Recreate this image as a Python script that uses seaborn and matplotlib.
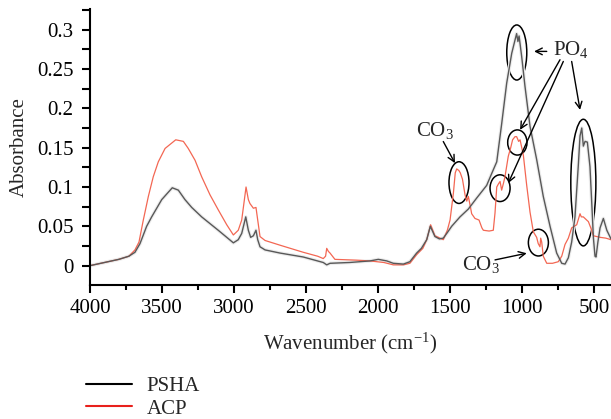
import numpy as np
import pandas as pd
import seaborn as sns
import matplotlib
matplotlib.use("Agg")
import matplotlib.pyplot as plt
from matplotlib.patches import Ellipse
from matplotlib.lines import Line2D
from matplotlib.ticker import MultipleLocator, FixedLocator, FixedFormatter

# ---------------- data ----------------
psha_wn = [4000, 3900, 3800, 3730, 3688, 3653, 3607, 3572, 3502, 3429, 3387, 3341, 3294, 3225,
           3110, 3005, 2971, 2947, 2919, 2901, 2885, 2866, 2848, 2836, 2820, 2785, 2681, 2520,
           2381, 2357, 2334, 2200, 2057, 1999, 1940, 1895, 1825, 1780, 1733, 1700, 1663, 1638,
           1606, 1575, 1548, 1520, 1490, 1432, 1374, 1316, 1247, 1210, 1177, 1143, 1108, 1073,
           1050, 1039, 1030, 1022, 1004, 981, 946, 900, 854, 807, 761, 726, 703, 680, 657, 634,
           610, 599, 587, 576, 564, 548, 530, 515, 506, 495, 488, 475, 460, 437, 413, 384]
psha_abs = [0.000, 0.004, 0.008, 0.012, 0.017, 0.028, 0.050, 0.062, 0.084, 0.099, 0.096, 0.084,
            0.074, 0.062, 0.045, 0.029, 0.033, 0.041, 0.062, 0.045, 0.036, 0.038, 0.045, 0.033,
            0.024, 0.020, 0.016, 0.011, 0.004, 0.001, 0.003, 0.004, 0.006, 0.008, 0.006, 0.003,
            0.002, 0.005, 0.016, 0.022, 0.033, 0.050, 0.037, 0.034, 0.035, 0.042, 0.050, 0.062,
            0.072, 0.086, 0.102, 0.118, 0.132, 0.180, 0.232, 0.270, 0.287, 0.295, 0.285, 0.292,
            0.266, 0.228, 0.177, 0.135, 0.088, 0.050, 0.016, 0.003, 0.002, 0.010, 0.030, 0.062,
            0.130, 0.165, 0.175, 0.152, 0.158, 0.157, 0.126, 0.070, 0.035, 0.012, 0.011, 0.030,
            0.048, 0.060, 0.045, 0.034]

acp_wn = [4000, 3900, 3800, 3730, 3688, 3660, 3630, 3595, 3561, 3526, 3479, 3405, 3352, 3318,
          3271, 3225, 3167, 3110, 3051, 3005, 2971, 2947, 2917, 2901, 2890, 2866, 2848, 2836,
          2820, 2785, 2681, 2520, 2420, 2381, 2365, 2357, 2345, 2334, 2300, 2150, 2057, 1960,
          1895, 1825, 1780, 1733, 1690, 1663, 1636, 1606, 1594, 1560, 1548, 1520, 1501, 1478,
          1465, 1455, 1440, 1430, 1415, 1397, 1385, 1374, 1360, 1351, 1328, 1300, 1280, 1270,
          1230, 1201, 1189, 1177, 1165, 1154, 1143, 1130, 1120, 1097, 1080, 1067, 1050, 1039,
          1025, 1015, 992, 969, 946, 923, 900, 889, 877, 872, 865, 854, 830, 790, 750, 726, 703,
          680, 657, 622, 599, 590, 576, 553, 541, 518, 506, 460, 420, 384]
acp_abs = [0.000, 0.004, 0.008, 0.012, 0.020, 0.030, 0.058, 0.088, 0.113, 0.132, 0.149, 0.160,
           0.158, 0.149, 0.134, 0.113, 0.090, 0.071, 0.052, 0.039, 0.045, 0.058, 0.100, 0.084,
           0.079, 0.073, 0.074, 0.058, 0.037, 0.032, 0.026, 0.017, 0.012, 0.009, 0.012, 0.022,
           0.018, 0.016, 0.008, 0.007, 0.006, 0.004, 0.001, 0.001, 0.003, 0.014, 0.022, 0.033,
           0.052, 0.038, 0.037, 0.034, 0.033, 0.045, 0.058, 0.092, 0.118, 0.123, 0.121, 0.118,
           0.110, 0.090, 0.082, 0.088, 0.075, 0.066, 0.060, 0.058, 0.048, 0.045, 0.044, 0.045,
           0.067, 0.100, 0.104, 0.107, 0.096, 0.105, 0.113, 0.139, 0.150, 0.160, 0.164, 0.164,
           0.158, 0.160, 0.140, 0.102, 0.068, 0.043, 0.036, 0.028, 0.024, 0.035, 0.030, 0.012,
           0.003, 0.003, 0.005, 0.012, 0.027, 0.035, 0.048, 0.052, 0.066, 0.062, 0.062, 0.058,
           0.056, 0.045, 0.038, 0.036, 0.035, 0.033]

series_names = ["PSHA", "ACP"]
x_ticks = [4000, 3500, 3000, 2500, 2000, 1500, 1000, 500]
x_tick_labels = ["4000", "3500", "3000", "2500", "2000", "1500", "1000", "500"]
y_ticks = [0, 0.05, 0.1, 0.15, 0.2, 0.25, 0.3]
y_tick_labels = ["0", "0.05", "0.1", "0.15", "0.2", "0.25", "0.3"]

# ---------------- style ----------------
sns.set_style("ticks")
plt.rcParams["font.family"] = ["Liberation Serif", "DejaVu Serif"]
plt.rcParams["mathtext.fontset"] = "custom"
plt.rcParams["mathtext.rm"] = "Liberation Serif"
plt.rcParams["mathtext.it"] = "Liberation Serif:italic"

FS = 15
fig = plt.figure(figsize=(6.11, 4.19), dpi=100)
ax = fig.add_axes([90 / 611, 1 - 285 / 419, (611 - 90) / 611, (285 - 9) / 419])

df_p = pd.DataFrame({"wn": psha_wn, "abs": psha_abs})
df_a = pd.DataFrame({"wn": acp_wn, "abs": acp_abs})

# soft halo + line for PSHA
sns.lineplot(data=df_p, x="wn", y="abs", ax=ax, color="#ececec", lw=2.6, sort=False,
             estimator=None, legend=False)
sns.lineplot(data=df_a, x="wn", y="abs", ax=ax, color="#f36753", lw=0.9, sort=False,
             estimator=None, legend=False)
sns.lineplot(data=df_p, x="wn", y="abs", ax=ax, color="#585858", lw=1.0, sort=False,
             estimator=None, legend=False)

ax.set_xlim(4000, 384)
ax.set_ylim(-0.0246, 0.3263)

ax.xaxis.set_major_locator(FixedLocator(x_ticks))
ax.xaxis.set_major_formatter(FixedFormatter(x_tick_labels))
ax.xaxis.set_minor_locator(MultipleLocator(250))
ax.yaxis.set_major_locator(FixedLocator(y_ticks))
ax.yaxis.set_major_formatter(FixedFormatter(y_tick_labels))
ax.yaxis.set_minor_locator(MultipleLocator(0.025))

ax.tick_params(axis="both", which="major", direction="out", length=6, width=1.5,
               labelsize=FS, color="black", labelcolor="black")
ax.tick_params(axis="x", which="minor", direction="out", length=3.5, width=1.5, color="black")
ax.tick_params(axis="y", which="minor", direction="out", length=6, width=1.5, color="black")
ax.tick_params(axis="x", pad=4)
ax.tick_params(axis="y", pad=6)

sns.despine(ax=ax)
for s in ["left", "bottom"]:
    ax.spines[s].set_linewidth(1.5)
    ax.spines[s].set_color("black")
ax.grid(False)

ax.set_xlabel("Wavenumber (cm$^{-1}$)", fontsize=FS, labelpad=9)
ax.set_ylabel("Absorbance", fontsize=FS, labelpad=6)

# ---------------- annotations ----------------
ell_kw = dict(fill=False, ec="black", lw=1.1)
for (cx, cy, w, h) in [(1038, 0.271, 139, 0.070),
                       (1034, 0.1566, 134, 0.032),
                       (1154, 0.0985, 139, 0.034),
                       (576, 0.1056, 174, 0.161),
                       (1439, 0.1056, 139, 0.053),
                       (888, 0.0293, 139, 0.034)]:
    ax.add_patch(Ellipse((cx, cy), w, h, **ell_kw))

arr_kw = dict(arrowstyle="->", color="black", lw=1.0, shrinkA=0, shrinkB=0, mutation_scale=12)
for tail, head in [((830, 0.2724), (918, 0.2724)),
                   ((738, 0.2618), (1015, 0.1727)),
                   ((715, 0.2596), (1097, 0.1049)),
                   ((657, 0.2596), (599, 0.198)),
                   ((1548, 0.1578), (1467, 0.1303)),
                   ((1189, 0.0073), (969, 0.0158))]:
    ax.annotate("", xy=head, xytext=tail, arrowprops=arr_kw)

ax.text(786, 0.2745, "PO$_4$", fontsize=FS, ha="left", va="center")
ax.text(1605, 0.1714, "CO$_3$", fontsize=FS, ha="center", va="center")
ax.text(1286, 0.001, "CO$_3$", fontsize=FS, ha="center", va="center")

# ---------------- legend ----------------
handles = [Line2D([0], [0], color="black", lw=1.5),
           Line2D([0], [0], color="#e8201c", lw=1.5)]
fig.legend(handles, series_names, loc="upper left", bbox_to_anchor=(78 / 611, 1 - 368 / 419),
           frameon=False, fontsize=FS, handlelength=2.2, handletextpad=0.7,
           labelspacing=0.15, borderaxespad=0)

fig.savefig("out.png", dpi=100)
